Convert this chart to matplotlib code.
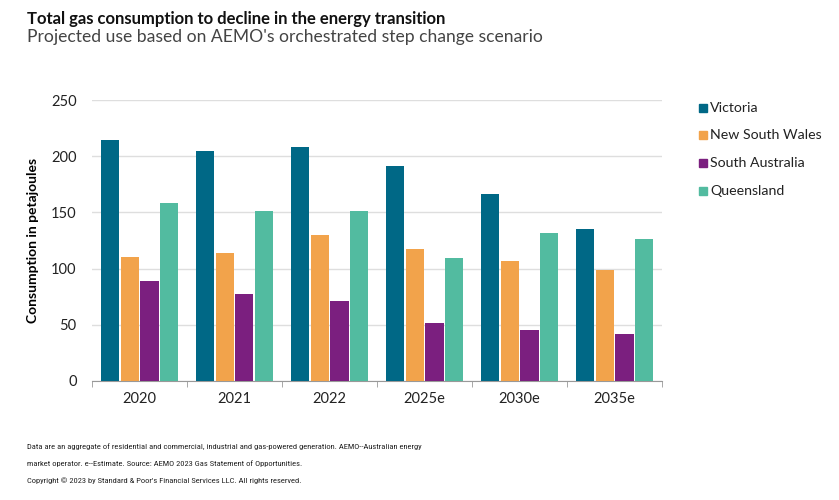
import numpy as np
import matplotlib
matplotlib.use('Agg')
import matplotlib.pyplot as plt
from matplotlib.patches import Rectangle

plt.rcParams['font.family'] = ['Lato', 'DejaVu Sans']

years = ["2020", "2021", "2022", "2025e", "2030e", "2035e"]
states = ["Victoria", "New South Wales", "South Australia", "Queensland"]
victoria = [214, 205, 208, 191, 166, 135]
nsw = [110, 114, 130, 117, 107, 99]
south_aus = [89, 77, 71, 52, 45, 42]
queensland = [158, 151.5, 151.5, 109, 132, 126]
colors = ["#006886", "#F2A34B", "#7B1F7F", "#52BBA0"]

series = [victoria, nsw, south_aus, queensland]

fig = plt.figure(figsize=(8.39, 5.0), dpi=100)
ax = fig.add_axes([92/839, 119/500, 570/839, 281/500])

x = np.arange(len(years))
w = 0.19
step = 0.21
for i, (vals, c) in enumerate(zip(series, colors)):
    ax.bar(x + (i - 1.5) * step, vals, width=w, color=c, label=states[i], zorder=3)

ax.set_ylim(0, 250)
ax.set_xlim(-0.5, len(years) - 0.5)
ax.set_yticks([0, 50, 100, 150, 200, 250])
ax.grid(axis='y', color='#dedede', linewidth=1, zorder=0)
ax.set_xticks(x)
ax.set_xticklabels(years)
ax.set_xticks(np.arange(-0.5, len(years)), minor=True)
ax.tick_params(axis='x', which='major', length=0, pad=8, labelsize=10.5, colors='#222222')
ax.tick_params(axis='x', which='minor', length=4, color='#999999')
ax.tick_params(axis='y', length=0, pad=11, labelsize=10.5, colors='#222222')
for s in ['top', 'right', 'left']:
    ax.spines[s].set_visible(False)
ax.spines['bottom'].set_color('#999999')
ax.set_ylabel('Consumption in petajoules', fontsize=10, fontweight='bold', labelpad=9)

# legend drawn as squares + labels
leg_y = [108, 135, 163, 191]
for yy, name, c in zip(leg_y, states, colors):
    fig.patches.append(Rectangle((699/839, 1 - (yy + 4)/500), 8/839, 8/500,
                                 transform=fig.transFigure, color=c))
    fig.text(710/839, 1 - yy/500, name, fontsize=10.2, va='center', color='#222222')

fig.text(27/839, 1 - 19/500, 'Total gas consumption to decline in the energy transition',
         fontsize=12, fontweight='bold', va='center', color='#111111')
fig.text(27/839, 1 - 37/500, "Projected use based on AEMO's orchestrated step change scenario",
         fontsize=12.6, va='center', color='#444444')

foot = ["Data are an aggregate of residential and commercial, industrial and gas-powered generation. AEMO--Australian energy",
        "market operator. e--Estimate. Source: AEMO 2023 Gas Statement of Opportunities.",
        "Copyright \u00a9 2023 by Standard & Poor's Financial Services LLC. All rights reserved."]
for yy, t in zip([447, 464, 481], foot):
    fig.text(27/839, 1 - yy/500, t, fontsize=6.1, va='center', color='#222222',
             family=['Roboto Condensed', 'IBM Plex Sans Condensed', 'DejaVu Sans'])

fig.savefig('out.png', dpi=100)
